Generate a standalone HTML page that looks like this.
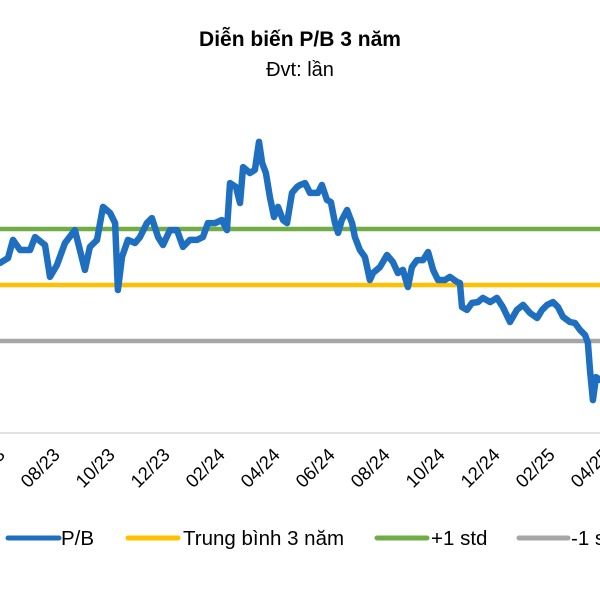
<!DOCTYPE html>
<html><head><meta charset="utf-8"><style>
body{margin:0;background:#fff;}
svg{display:block;font-family:"Liberation Sans",Arial,sans-serif;}
</style></head><body>
<svg id="chart" width="600" height="600">
<text x="300" y="46" text-anchor="middle" font-size="21" font-weight="bold" fill="#000">Diễn biến P/B 3 năm</text>
<text x="300" y="76" text-anchor="middle" font-size="20" fill="#000">Đvt: lần</text>
<line x1="0" y1="433" x2="600" y2="433" stroke="#d9d9d9" stroke-width="1.5"/>
<g id="refs"></g>
<g id="ticks"></g>
<g id="series"></g>
<g>
 <g><line x1="8" y1="538" x2="59" y2="538" stroke="#1f6fc1" stroke-width="5" stroke-linecap="round"/><text x="61" y="545" font-size="20.5">P/B</text></g>
 <g><line x1="128" y1="538" x2="178" y2="538" stroke="#ffc000" stroke-width="5" stroke-linecap="round"/><text x="183" y="545" font-size="20.5">Trung bình 3 năm</text></g>
 <g><line x1="377" y1="538" x2="427" y2="538" stroke="#70ad47" stroke-width="5" stroke-linecap="round"/><text x="431" y="545" font-size="20.5">+1 std</text></g>
 <g><line x1="519" y1="538" x2="568" y2="538" stroke="#a6a6a6" stroke-width="5" stroke-linecap="round"/><text x="571" y="545" font-size="20.5">-1 std</text></g>
</g>
</svg>
<script>
// months since Aug 2023
const monthT=[-1.895,-1.601,-1.420,-1.161,-0.798,-0.617,-0.254,-0.073,0.178,0.471,0.834,1.197,1.378,1.637,1.853,2.112,2.293,2.397,2.544,2.760,3.019,3.200,3.451,3.632,3.857,4.038,4.288,4.547,4.763,5.014,5.273,5.489,5.670,5.929,6.180,6.361,6.473,6.689,6.836,6.948,7.198,7.380,7.527,7.639,7.777,7.924,8.071,8.218,8.399,8.546,8.727,8.909,9.020,9.202,9.383,9.668,9.815,9.996,10.143,10.290,10.402,10.540,10.731,10.912,11.016,11.197,11.378,11.560,11.672,11.923,12.181,12.397,12.579,12.760,12.941,13.088,13.270,13.494,13.675,13.857,14.038,14.289,14.470,14.729,14.833,14.910,15.092,15.273,15.489,15.670,15.930,16.180,16.396,16.655,16.905,17.130,17.380,17.640,17.821,18.002,18.218,18.399,18.581,18.831,19.021,19.202,19.384,19.487,19.565,19.668,19.781,19.928];
const pbValues=[1.579,1.596,1.661,1.625,1.625,1.671,1.643,1.529,1.571,1.65,1.696,1.554,1.636,1.661,1.779,1.757,1.721,1.482,1.6,1.661,1.65,1.671,1.721,1.739,1.671,1.643,1.696,1.696,1.636,1.661,1.661,1.671,1.721,1.721,1.732,1.696,1.864,1.85,1.793,1.921,1.9,1.911,2.011,1.936,1.9,1.814,1.743,1.779,1.732,1.721,1.829,1.85,1.857,1.864,1.829,1.829,1.857,1.804,1.796,1.721,1.686,1.732,1.768,1.721,1.671,1.625,1.6,1.518,1.543,1.564,1.607,1.582,1.543,1.554,1.493,1.564,1.589,1.589,1.618,1.554,1.518,1.518,1.529,1.511,1.507,1.421,1.411,1.436,1.439,1.454,1.439,1.454,1.421,1.368,1.411,1.429,1.4,1.382,1.411,1.429,1.439,1.421,1.386,1.368,1.364,1.339,1.321,1.293,1.196,1.089,1.171,1.161];
const meanValue=1.5;
const plusStd=1.7;
const minusStd=1.3;
const tickLabels=["06/23","08/23","10/23","12/23","02/24","04/24","06/24","08/24","10/24","12/24","02/25","04/25"];
const tickT=[-2,0,2,4,6,8,10,12,14,16,18,20];

const NS="http://www.w3.org/2000/svg";
const xS=t=>52+t*27.5;
const yS=v=>285-(v-1.5)*280;
function mk(tag,attrs,parent){const e=document.createElementNS(NS,tag);for(const k in attrs)e.setAttribute(k,attrs[k]);parent.appendChild(e);return e;}

const refs=document.getElementById('refs');
const refDefs=[[plusStd,'#70ad47','plus-std-line'],[meanValue,'#ffc000','mean-line'],[minusStd,'#a6a6a6','minus-std-line']];
refDefs.forEach(r=>{
 const l=mk('line',{x1:0,x2:600,y1:yS(r[0]),y2:yS(r[0]),stroke:r[1],'stroke-width':4.5},refs);
 
 
});

const ticks=document.getElementById('ticks');
tickLabels.forEach((lab,i)=>{
 const x=xS(tickT[i])+9, y=456;
 const t=mk('text',{x:x,y:y,'text-anchor':'end','font-size':'18.5',fill:'#000',transform:`rotate(-45 ${x} ${y})`},ticks);
 t.textContent=lab;
 
 
});

const series=document.getElementById('series');
const d=monthT.map((t,i)=>(i?'L':'M')+xS(t).toFixed(1)+' '+yS(pbValues[i]).toFixed(1)).join(' ');
const p=mk('path',{d:d,fill:'none',stroke:'#1f6fc1','stroke-width':6.5,'stroke-linejoin':'round','stroke-linecap':'round'},series);


</script>
</body></html>
